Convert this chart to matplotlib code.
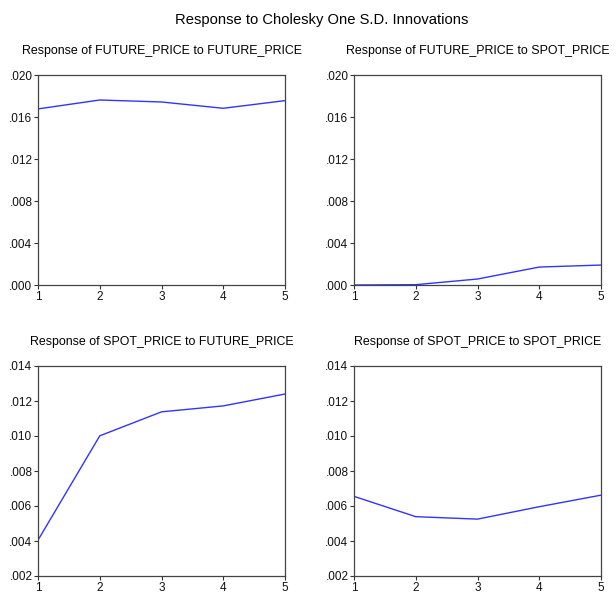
import matplotlib
matplotlib.use("Agg")
import matplotlib.pyplot as plt
from matplotlib.ticker import FuncFormatter, FixedLocator

periods = [1, 2, 3, 4, 5]
fut_to_fut = [0.01677, 0.01762, 0.01743, 0.01683, 0.01756]
fut_to_spot = [0.00000, 0.00003, 0.00057, 0.00171, 0.00190]
spot_to_fut = [0.00405, 0.01001, 0.01138, 0.01172, 0.01240]
spot_to_spot = [0.00655, 0.00539, 0.00525, 0.00596, 0.00662]

titles = ["Response of FUTURE_PRICE to FUTURE_PRICE",
          "Response of FUTURE_PRICE to SPOT_PRICE",
          "Response of SPOT_PRICE to FUTURE_PRICE",
          "Response of SPOT_PRICE to SPOT_PRICE"]
top_yticks = [0.000, 0.004, 0.008, 0.012, 0.016, 0.020]
bot_yticks = [0.002, 0.004, 0.006, 0.008, 0.010, 0.012, 0.014]

plt.rcParams['font.family'] = ['Liberation Sans', 'DejaVu Sans']

W, H = 616, 593
fig = plt.figure(figsize=(W / 100, H / 100), dpi=100)

def rect(x0, x1, ytop, ybot):
    return [x0 / W, 1 - ybot / H, (x1 - x0) / W, (ybot - ytop) / H]

boxes = [rect(38, 285, 75, 285), rect(354, 601, 75, 285),
         rect(38, 285, 366, 576), rect(354, 601, 366, 576)]
series = [fut_to_fut, fut_to_spot, spot_to_fut, spot_to_spot]
yticks = [top_yticks, top_yticks, bot_yticks, bot_yticks]
title_y = [51, 51, 342, 342]

fmt = FuncFormatter(lambda v, p: f"{v:.3f}".lstrip("0"))

for i in range(4):
    ax = fig.add_axes(boxes[i])
    ax.plot(periods, series[i], color="#3333ff", lw=1.0)
    ax.set_xlim(1, 5)
    ax.set_ylim(yticks[i][0], yticks[i][-1])
    ax.xaxis.set_major_locator(FixedLocator(periods))
    ax.yaxis.set_major_locator(FixedLocator(yticks[i]))
    ax.yaxis.set_major_formatter(fmt)
    ax.tick_params(axis='both', labelsize=8.5, length=3, width=0.8, pad=1,
                   color="#333333", labelcolor="#111111")
    for s in ax.spines.values():
        s.set_color("#444444")
        s.set_linewidth(0.9)
    x0, y0, w, h = boxes[i]
    fig.text(x0 + w / 2, 1 - title_y[i] / H, titles[i], ha='center', va='center',
             fontsize=8.9)

fig.text(322 / W, 1 - 20 / H, "Response to Cholesky One S.D. Innovations",
         ha='center', va='center', fontsize=10.6)

fig.savefig("out.png", dpi=100)
